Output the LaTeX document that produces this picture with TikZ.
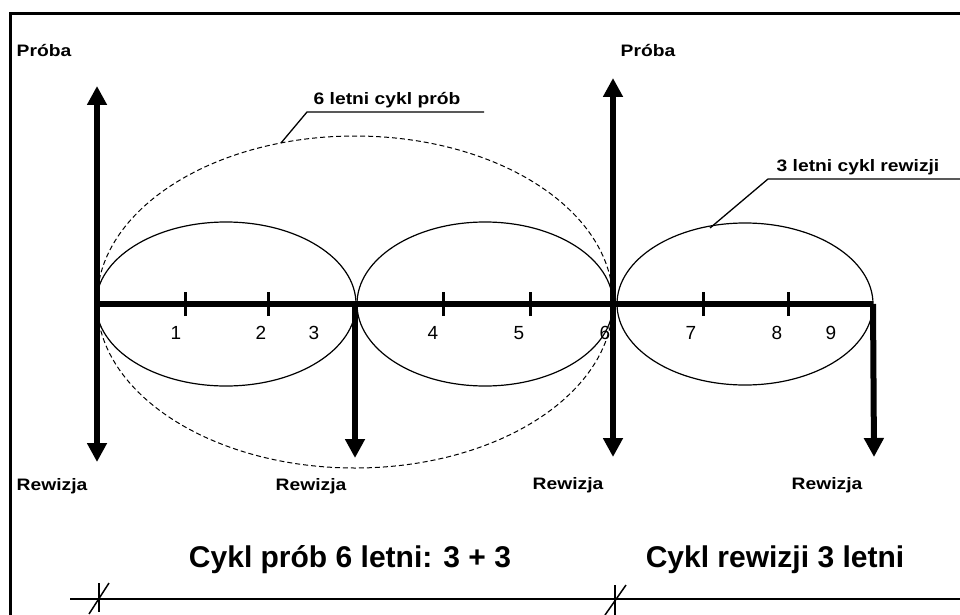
\documentclass[tikz,border=0pt]{standalone}
\usepackage{fontspec}
\setmainfont{Liberation Sans}
\newfontfamily\widesans{Liberation Sans}[FakeStretch=1.16]
\usetikzlibrary{arrows.meta}
\begin{document}
\begin{tikzpicture}[x=1pt,y=-1pt,
  lab/.style={font=\widesans\bfseries\fontsize{16.6}{18}\selectfont, inner sep=0pt, anchor=base},
  num/.style={font=\fontsize{19}{21}\selectfont, inner sep=0pt, anchor=base},
  big/.style={font=\bfseries\fontsize{30}{34}\selectfont, inner sep=0pt, anchor=base},
  axisline/.style={line width=5.5pt},
  bigarrow/.style={line width=6pt, -{Triangle[width=19pt,length=19pt]}},
  tickmark/.style={line width=3pt},
  cyc/.style={line width=1.2pt},
  dcyc/.style={line width=1pt, dash pattern=on 5pt off 3pt},
  leader/.style={line width=1.3pt},
  framel/.style={line width=3pt},
  dimline/.style={line width=1.5pt}]
\useasboundingbox (0,0) rectangle (960,615);

% frame
\coordinate (f1) at (960,14);
\coordinate (f2) at (10,14);
\coordinate (f3) at (10,615);
\draw[framel] (f1) -- (f2) -- (f3);

% cycle ellipses
\draw[dcyc] (355,302) ellipse [x radius=258, y radius=166];
\draw[cyc] (226,304) ellipse [x radius=130, y radius=82];
\draw[cyc] (485,304) ellipse [x radius=128, y radius=82];
\draw[cyc] (745,304) ellipse [x radius=128, y radius=81];

% axis points
\coordinate (a0) at (97,304);
\coordinate (a3) at (355,304);
\coordinate (a6) at (613,304);
\coordinate (a9) at (873,304);
\coordinate (t1) at (185,304);
\coordinate (t2) at (268,304);
\coordinate (t4) at (443,304);
\coordinate (t5) at (530,304);
\coordinate (t7) at (703,304);
\coordinate (t8) at (788,304);

% arrow tips
\coordinate (up0) at (97,86);
\coordinate (dn0) at (97,462);
\coordinate (dn3) at (355,458);
\coordinate (up6) at (613,78);
\coordinate (dn6) at (613,457);
\coordinate (dn9) at (874,457);

% axis
\draw[axisline] (a0) -- (a9);
\foreach \t in {t1,t2,t4,t5,t7,t8}
  \draw[tickmark] ([yshift=-12pt]\t) -- ([yshift=12pt]\t);

% arrows
\draw[bigarrow] (a0) -- (up0);
\draw[bigarrow] (a0) -- (dn0);
\draw[bigarrow] (a3) -- (dn3);
\draw[bigarrow] (a6) -- (up6);
\draw[bigarrow] (a6) -- (dn6);
\draw[bigarrow] (a9) -- (dn9);

% numbers
\node[num] (n1) at (176,339) {1};
\node[num] (n2) at (261,339) {2};
\node[num] (n3) at (314,339) {3};
\node[num] (n4) at (433,339) {4};
\node[num] (n5) at (519,339) {5};
\node[num] (n6) at (605,339) {6};
\node[num] (n7) at (691,339) {7};
\node[num] (n8) at (777,339) {8};
\node[num] (n9) at (831,339) {9};

% labels
\node[lab] (pr1) at (44,56.5) {Próba};
\node[lab] (pr2) at (648,56.5) {Próba};
\node[lab] (rw1) at (52,490) {Rewizja};
\node[lab] (rw2) at (311,490) {Rewizja};
\node[lab] (rw3) at (568,489) {Rewizja};
\node[lab] (rw4) at (827,489) {Rewizja};

% leader labels
\node[lab] (l6) at (387,104.3) {6 letni cykl prób};
\node[lab] (l3) at (858,171.7) {3 letni cykl rewizji};
\coordinate (l6a) at (281,143);
\coordinate (l6b) at (307,112);
\coordinate (l6c) at (484,112);
\draw[leader] (l6a) -- (l6b) -- (l6c);
\coordinate (l3a) at (710,228);
\coordinate (l3b) at (768,179);
\coordinate (l3c) at (960,179);
\draw[leader] (l3a) -- (l3b) -- (l3c);

% bottom texts
\node[big] (c1) at (350,567.5) {Cykl prób 6 letni: 3 + 3};
\node[big] (c2) at (775,567) {Cykl rewizji 3 letni};

% dimension line
\coordinate (d0) at (70,599);
\coordinate (d1) at (960,599);
\draw[dimline] (d0) -- (d1);
\coordinate (m1) at (99,599);
\coordinate (m2) at (615,599);
\draw[dimline] ([yshift=16pt]m1) -- ([yshift=-13pt]m1);
\draw[dimline] ([xshift=-10pt,yshift=-15pt]m1) -- ([xshift=10pt,yshift=16pt]m1);
\draw[dimline] ([yshift=14pt]m2) -- ([yshift=-16pt]m2);
\draw[dimline] ([xshift=-10pt,yshift=-16pt]m2) -- ([xshift=11pt,yshift=14pt]m2);
\end{tikzpicture}
\end{document}
